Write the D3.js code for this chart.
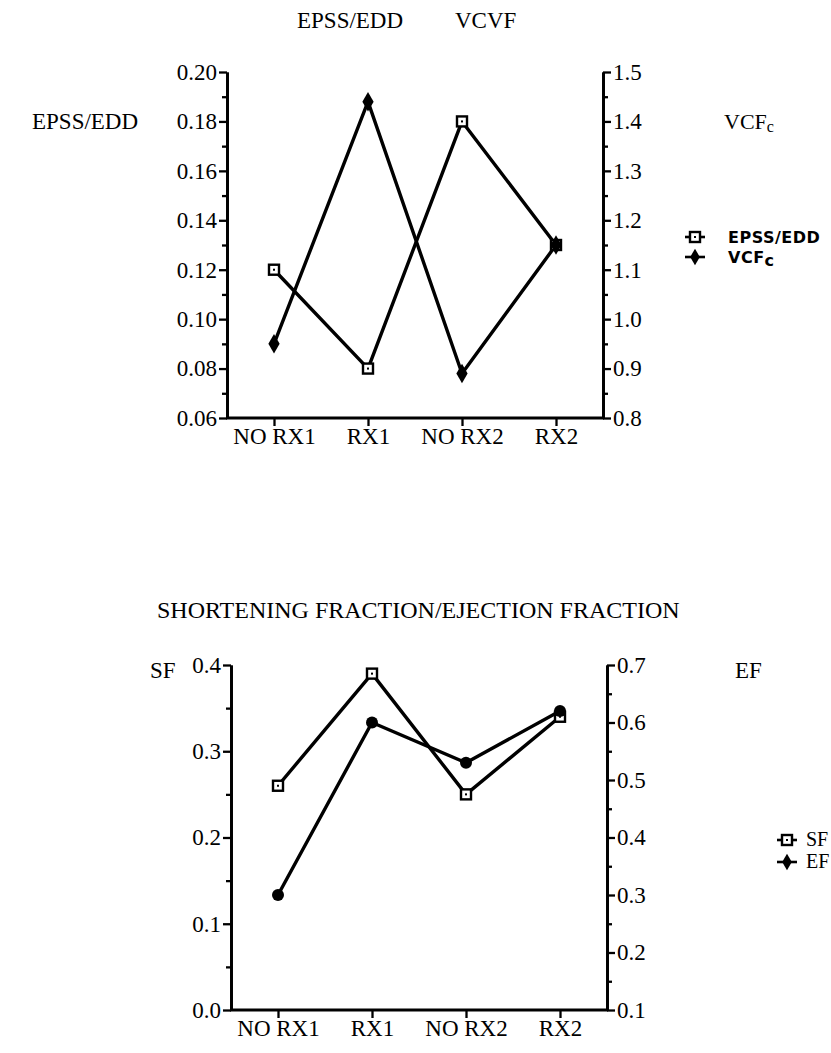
<!DOCTYPE html>
<html>
<head>
<meta charset="utf-8">
<title>EPSS/EDD VCVF - SF/EF</title>
<script src="https://cdn.jsdelivr.net/npm/d3@7"></script>
<style>
  body { margin: 0; background: #fff; }
  .serif { font-family: "Liberation Serif", "Times New Roman", serif; }
  .legend { font-family: "DejaVu Sans", sans-serif; font-weight: bold; font-size: 16px; letter-spacing: 0.5px; }
</style>
</head>
<body>
<div id="chart"></div>
<script>
// categories (both panels)
const groups = ["NO RX1", "RX1", "NO RX2", "RX2"];

// top panel: EPSS/EDD (left axis) and VCFc (right axis)
const epssEdd = [0.12, 0.08, 0.18, 0.13];
const vcfc = [0.95, 1.44, 0.89, 1.15];
const epssTicks = [0.06, 0.08, 0.10, 0.12, 0.14, 0.16, 0.18, 0.20];
const vcfTicks = [0.8, 0.9, 1.0, 1.1, 1.2, 1.3, 1.4, 1.5];

// bottom panel: SF (left axis) and EF (right axis)
const sf = [0.26, 0.39, 0.25, 0.34];
const ef = [0.30, 0.60, 0.53, 0.62];
const sfTicks = [0.0, 0.1, 0.2, 0.3, 0.4];
const efTicks = [0.1, 0.2, 0.3, 0.4, 0.5, 0.6, 0.7];

const W = 831, H = 1053;
const svg = d3.select("#chart").append("svg")
  .attr("width", W).attr("height", H);

function midpoints(t) {
  return d3.pairs(t).map(p => (p[0] + p[1]) / 2);
}

function squareMark(g, x, y) {
  g.append("rect").attr("x", x - 5).attr("y", y - 5)
    .attr("width", 10).attr("height", 10)
    .attr("fill", "#fff").attr("stroke", "#000").attr("stroke-width", 2.4);
  g.append("rect").attr("x", x - 1).attr("y", y - 1)
    .attr("width", 2).attr("height", 2).attr("fill", "#000");
}
function diamondMark(g, x, y, s) {
  g.append("path").attr("d", d3.symbol(d3.symbolDiamond, s || 110)())
    .attr("transform", "translate(" + x + "," + y + ")")
    .attr("fill", "#000");
}
function circleMark(g, x, y) {
  g.append("circle").attr("cx", x).attr("cy", y).attr("r", 6).attr("fill", "#000");
}

function panel(o) {
  const g = svg.append("g");
  const x = d3.scalePoint().domain(groups).range([o.x0, o.x1]).padding(0.5);
  const yL = d3.scaleLinear().domain(d3.extent(o.leftTicks)).range([o.y1, o.y0]);
  const yR = d3.scaleLinear().domain(d3.extent(o.rightTicks)).range([o.y1, o.y0]);

  // minor ticks
  g.append("g").attr("transform", "translate(" + o.x0 + ",0)")
    .call(d3.axisLeft(yL).tickValues(midpoints(o.leftTicks)).tickSize(5).tickFormat("").tickSizeOuter(0));
  g.append("g").attr("transform", "translate(" + o.x1 + ",0)")
    .call(d3.axisRight(yR).tickValues(midpoints(o.rightTicks)).tickSize(5).tickFormat("").tickSizeOuter(0));

  // major axes
  const aL = g.append("g").attr("transform", "translate(" + o.x0 + ",0)")
    .call(d3.axisLeft(yL).tickValues(o.leftTicks).tickSize(8).tickPadding(2)
      .tickFormat(d3.format(o.leftFmt)).tickSizeOuter(0));
  const aR = g.append("g").attr("transform", "translate(" + o.x1 + ",0)")
    .call(d3.axisRight(yR).tickValues(o.rightTicks).tickSize(8).tickPadding(2)
      .tickFormat(d3.format(o.rightFmt)).tickSizeOuter(0));
  const aX = g.append("g").attr("transform", "translate(0," + o.y1 + ")")
    .call(d3.axisBottom(x).tickSize(8).tickPadding(2).tickSizeOuter(0));

  g.selectAll(".domain").attr("stroke", "#000").attr("stroke-width", 2.8);
  g.selectAll(".tick line").attr("stroke", "#000").attr("stroke-width", 2.3);
  [aL, aR, aX].forEach(a => a.selectAll("text")
    .attr("font-size", 23).attr("font-family", "Liberation Serif, serif").attr("fill", "#000"));
  aX.select(".domain").attr("d", "M" + (o.x0 - 1) + ",0H" + (o.x1 + 1));

  // lines
  const lineL = d3.line().x((d, i) => x(groups[i])).y(d => yL(d));
  const lineR = d3.line().x((d, i) => x(groups[i])).y(d => yR(d));
  g.append("path").attr("d", lineL(o.leftVals)).attr("fill", "none")
    .attr("stroke", "#000").attr("stroke-width", 3.4).attr("stroke-linejoin", "round");
  g.append("path").attr("d", lineR(o.rightVals)).attr("fill", "none")
    .attr("stroke", "#000").attr("stroke-width", 3.4).attr("stroke-linejoin", "round");

  o.leftVals.forEach((v, i) => squareMark(g, x(groups[i]), yL(v)));
  o.rightVals.forEach((v, i) => o.rightMark(g, x(groups[i]), yR(v)));

  return { g, x, yL, yR };
}

function label(x, y, txt, size) {
  return svg.append("text").attr("class", "serif").attr("x", x).attr("y", y)
    .attr("font-size", size || 23).attr("fill", "#000").text(txt);
}

// ---- top panel ----
panel({
  x0: 227, x1: 603, y0: 72, y1: 418,
  leftTicks: epssTicks, rightTicks: vcfTicks,
  leftFmt: ".2f", rightFmt: ".1f",
  leftVals: epssEdd, rightVals: vcfc,
  rightMark: diamondMark
});

label(297, 28, "EPSS/EDD");
label(455, 28, "VCVF");
label(32, 129, "EPSS/EDD");
const vl = label(724, 129, "", 22);
vl.append("tspan").text("VCF");
vl.append("tspan").attr("font-size", 16).attr("dy", 3).text("c");

// legend rows: short line with marker, then text
function legendRow(y, x, dx, mark, txt, sub, cls) {
  svg.append("line").attr("x1", x - 10).attr("x2", x + 10).attr("y1", y).attr("y2", y)
    .attr("stroke", "#000").attr("stroke-width", 2.6);
  mark(svg, x, y);
  const t = svg.append("text").attr("x", x + dx).attr("y", y + 6).text(txt);
  if (cls) t.attr("class", cls);
  else t.attr("class", "serif").attr("font-size", 20);
  if (sub) t.append("tspan").attr("dy", 3).text(sub);
}
legendRow(237, 695, 33, squareMark, "EPSS/EDD", null, "legend");
legendRow(257, 695, 33, (s, x, y) => diamondMark(s, x, y, 80), "VCF", "c", "legend");

// ---- bottom panel ----
panel({
  x0: 231, x1: 607, y0: 665, y1: 1010,
  leftTicks: sfTicks, rightTicks: efTicks,
  leftFmt: ".1f", rightFmt: ".1f",
  leftVals: sf, rightVals: ef,
  rightMark: circleMark
});

label(157, 618, "SHORTENING FRACTION/EJECTION FRACTION", 24);
label(150, 678, "SF");
label(735, 678, "EF");

legendRow(840, 787, 19, squareMark, "SF", null, null);
legendRow(862, 787, 19, (s, x, y) => diamondMark(s, x, y, 80), "EF", null, null);
</script>
</body>
</html>
